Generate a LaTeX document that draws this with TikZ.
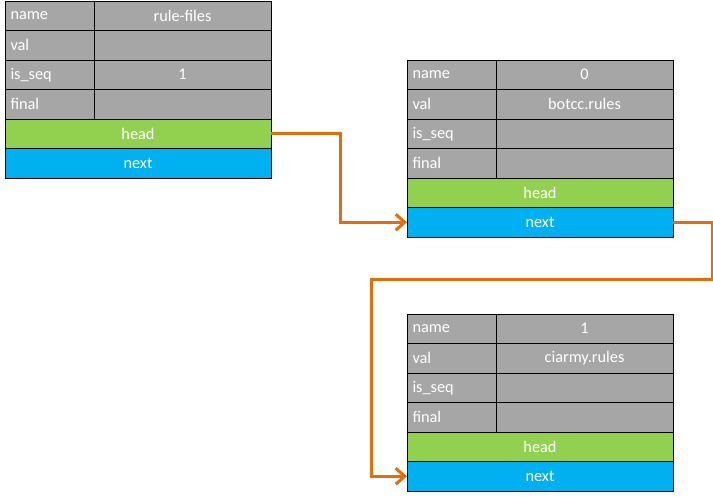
\documentclass[tikz,border=0pt]{standalone}
\usepackage{fontspec}
\setmainfont{Carlito}
\usetikzlibrary{arrows.meta}
\definecolor{cellgray}{HTML}{A6A6A6}
\definecolor{headgreen}{HTML}{92D050}
\definecolor{nextblue}{HTML}{00B0F0}
\definecolor{linkorange}{HTML}{E46C0A}
\tikzstyle{cell} = [draw=black, line width=0.8pt, fill=cellgray, text=white, anchor=north west, minimum height=29.5pt, inner xsep=5.5pt, inner ysep=0pt, outer sep=0pt, font={\fontsize{16.3}{19}\selectfont}]
\tikzstyle{key} = [cell, text width=78pt, align=left]
\tikzstyle{val} = [cell, minimum width=177pt]
\tikzstyle{headcell} = [cell, fill=headgreen, minimum width=266pt]
\tikzstyle{nextcell} = [cell, fill=nextblue, minimum width=266pt]
\tikzstyle{link} = [draw=linkorange, line width=3pt, -{Straight Barb[length=9pt,width=16pt]}]
% one list entry: id, x, y, name, val, is_seq
\newcommand{\listrec}[6]{%
  \node[key](#1-k1) at (#2,#3){name};
  \node[val](#1-v1) at (#1-k1.north east){#4};
  \node[key](#1-k2) at (#1-k1.south west){val};
  \node[val](#1-v2) at (#1-k2.north east){#5};
  \node[key](#1-k3) at (#1-k2.south west){is\_seq};
  \node[val](#1-v3) at (#1-k3.north east){#6};
  \node[key](#1-k4) at (#1-k3.south west){final};
  \node[val](#1-v4) at (#1-k4.north east){};
  \node[headcell](#1-head) at (#1-k4.south west){head};
  \node[nextcell](#1-next) at (#1-head.south west){next};
}

\begin{document}
\begin{tikzpicture}[x=1pt,y=-1pt]
        \useasboundingbox (0,0) rectangle (713,497);
        \listrec{rf}{5}{1}{rule-files}{}{1}
        \listrec{botcc}{407}{60}{0}{botcc.rules}{}
        \listrec{ciarmy}{407}{314}{1}{ciarmy.rules}{}
        \coordinate (turn) at (371,280);
        \draw[link](rf-head.east)--++(69,0)|-(botcc-next.west);
        \draw[link](botcc-next.east)--++(39,0)|-(turn)|-(ciarmy-next.west);
      \end{tikzpicture}
\end{document}
